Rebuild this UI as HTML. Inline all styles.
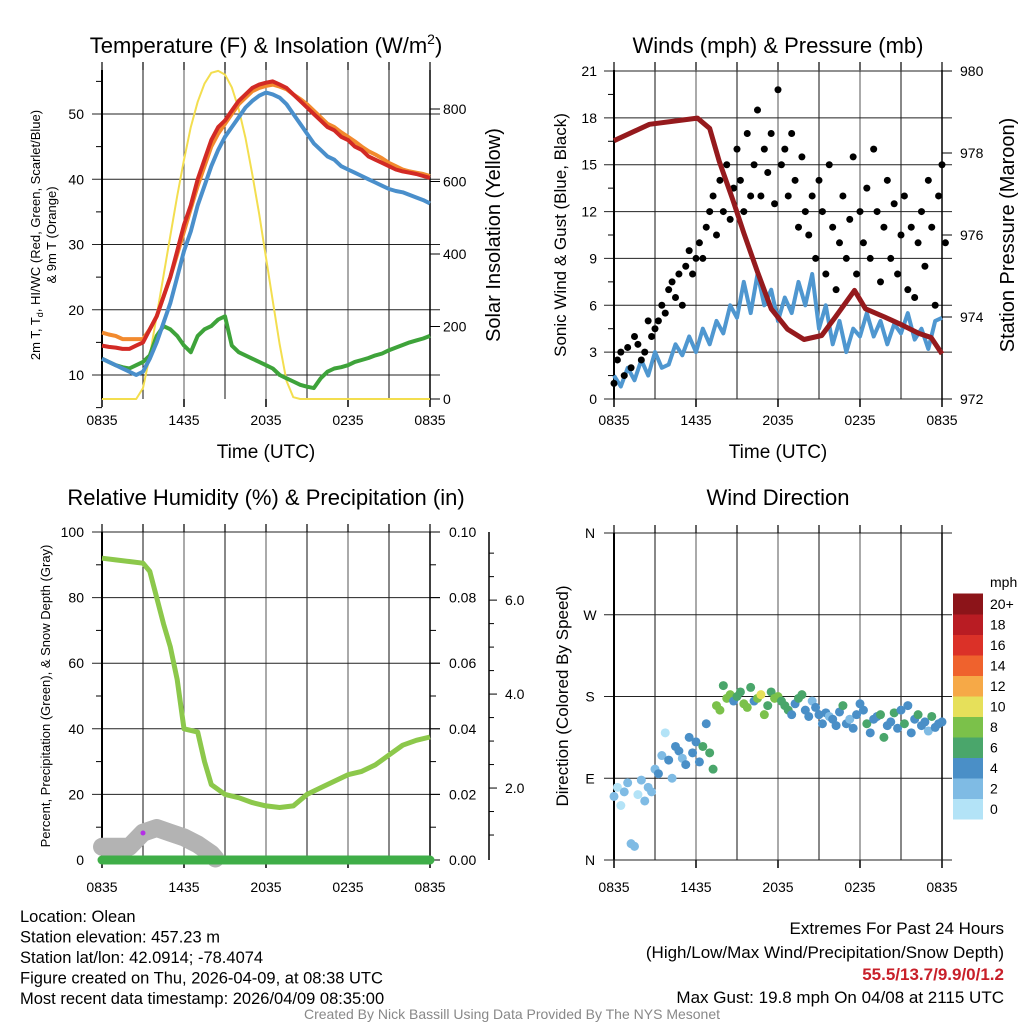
<!DOCTYPE html>
<html><head><meta charset="utf-8"><style>
html,body{margin:0;padding:0;background:#fff;}
svg{display:block;font-family:"Liberation Sans",sans-serif;}
</style></head><body>
<svg id="chart" width="1024" height="1024" viewBox="0 0 1024 1024" xmlns="http://www.w3.org/2000/svg"></svg>
<script>
// ---------- DATA ----------
const xTickLabels = ["0835","1435","2035","0235","0835"];
// Panel 1 (half-hour steps, hours since 0835)
const tempT   = [14.5,14.3,14.2,14,14,14.5,15,17,19,22,25,29,33,36,40,43,46,48,49,50.5,52,53,54,54.5,54.8,55,54.5,54,53,52,51,50,49,48,47.5,46.5,46,45,44.5,43.5,43,42.5,42,41.5,41.2,41,40.8,40.5,40.2];
const temp9m  = [16.5,16.2,16,15.5,15.5,15.5,15.5,17,19,22,25,28.5,32,35.5,39,42,45,47,48.5,50,51.5,52.5,53.5,54,54.3,54.5,54.2,53.8,53,52.3,51.5,50.5,49.5,48.5,48,47.2,46.5,45.8,45,44.3,43.8,43.2,42.5,42,41.5,41.2,41,40.8,40.5];
const tempWC  = [12.5,12,11.5,11,10.5,10,10.5,12.5,15,18,21,25,29,32,36,39,42,44.5,46.5,48,49.5,51,52,52.8,53.3,53,52.5,51.5,50,48.5,47,45.5,44.5,43.5,43,42,41.5,41,40.5,40,39.5,39,38.5,38.2,38,37.6,37.2,36.8,36.3];
const dewT    = [12.5,12,11.5,11.2,11,11.5,12,13,16,17.5,17,16,14.5,13.5,16,17,17.5,18.5,19,14.5,13.5,13,12.5,12,11.5,11,10,9.5,9,8.5,8.2,8,9.5,10.5,11,11.2,11.5,12,12.3,12.6,13,13.3,13.8,14.2,14.6,15,15.3,15.6,16];
const solar   = [0,0,0,0,0,0,30,120,230,340,450,560,660,750,820,870,900,905,895,860,800,720,620,510,390,270,150,50,5,0,0,0,0,0,0,0,0,0,0,0,0,0,0,0,0,0,0,0,0];
const p1LeftTicks = [10,20,30,40,50];
const p1RightTicks = [0,200,400,600,800];
// Panel 2
const windSpd = [1.5,0.8,2,1.2,2.5,1.5,3,2,2.2,3.5,2.8,4,3,4.5,3.5,5,4.2,6,5.2,7.5,5.5,8,6,7,5,6.5,5.5,7.5,6,8,4.5,6,3.5,5,3,4.5,4,5.5,4,5,3.5,4.8,4.2,5.5,3.8,4.5,3.2,5,5.2];
const gusts = [1,2.5,3,1.5,3.3,2,4,3.5,2.5,3,5,4,4.5,5,6,5.5,7,7.5,6.5,8,6,8.5,9.5,8,9,10,9,11,12,13,10.5,14,12,15,11.5,13.5,16,14,12,17,13,15,18.5,13,16,14.5,17,12.5,19.8,15,16,13,17,14,11,15.5,12,10.5,13,9,14,12,8,15,11,7,10,13,9,11.5,15.5,8,12,10,13.5,9,16,12,7.5,11,14,9,12.5,8,10.5,13,7,11,6.5,10,12,8.5,14,11,6,13,15,10];
const presTimes = [0,2.6,6.1,7,7.7,8.7,9.5,10.5,11.5,12.7,13.9,15.2,16.2,17.6,18.4,19.8,21.1,22.3,23.2,24];
const presVals  = [978.3,978.7,978.85,978.6,977.8,976.85,976.05,975.1,974.2,973.7,973.45,973.55,974.0,974.65,974.2,974.0,973.8,973.6,973.5,973.1];
const p2LeftTicks = [0,3,6,9,12,15,18,21];
const p2RightTicks = [972,974,976,978,980];
// Panel 3
const rhTimes = [0,1,2,3,3.5,4,4.5,5,5.5,6,7,7.5,8,9,10,11,12,13,14,15,16,17,18,19,20,21,22,23,24];
const rhVals  = [92,91.5,91,90.5,88,80,72,65,55,40,39,30,23,20,19,17.5,16.5,16,16.5,20,22,24,26,27,29,32,35,36.5,37.5];
const precip = [0,0];
const snowTimes = [0,2,3,4,5,6,7,8,8.3];
const snowVals  = [0.75,0.75,1.05,1.15,1.05,0.95,0.8,0.6,0.5];
const p3LeftTicks = [0,20,40,60,80,100];
const p3RightTicks = ["0.00","0.02","0.04","0.06","0.08","0.10"];
const p3SnowTicks = [2,4,6];
// Panel 4 (quarter-hour steps)
const windDir = [70,80,60,75,85,18,15,72,88,65,80,75, 100,95,115,140,110,90,125,120,112,105,135,118, 130,108,125,150,118,100,170,165,192,178,182,175, 180,185,172,168,190,175,178,182,160,170,185,178, 180,175,170,165,160,172,178,182,165,158,175,168, 160,150,162,158,155,148,163,170,150,155,145,160, 172,165,150,140,155,158,160,135,148,152,162,145, 165,150,170,140,155,160,148,152,142,158,146,150,152];
const dirSpeed = [2,1,1,3,2,3,3,1,2,2,3,3, 3,4,2,1,4,3,4,4,3,4,4,4, 5,4,6,4,7,6,8,9,7,8,8,5, 7,6,8,8,7,4,9,10,8,7,6,8, 8,6,7,7,5,4,6,6,4,4,3,5, 4,4,5,3,4,4,4,6,4,2,4,5, 4,5,6,4,4,5,6,6,5,4,6,4, 4,6,5,4,4,6,4,4,3,6,4,5,4];
const dirLabels = ["N","E","S","W","N"];
const cbLabels = ["0","2","4","6","8","10","12","14","16","18","20+"];
const cbColors = ["#b3e3f7","#7fbbe4","#4a8fc7","#4aa66b","#7bc14a","#e6e05a","#f6a947","#ef622d","#db3128","#b91c23","#8c1419"];

// ---------- HELPERS ----------
const svg = document.getElementById('chart');
const NS = "http://www.w3.org/2000/svg";
function el(tag, attrs, parent){const e=document.createElementNS(NS,tag);for(const k in attrs)e.setAttribute(k,attrs[k]);(parent||svg).appendChild(e);return e;}
function txt(s,x,y,size,anchor,parent,extra){const t=el('text',Object.assign({x:x,y:y,'font-size':size,'text-anchor':anchor||'middle',fill:'#000'},extra||{}),parent);t.textContent=s;return t;}
function lin(d0,d1,r0,r1){return v=>r0+(v-d0)/(d1-d0)*(r1-r0);}
function pathOf(xs,ys){return xs.map((x,i)=>(i?'L':'M')+x.toFixed(1)+' '+ys[i].toFixed(1)).join(' ');}

function frame(g,L,T,R,B,leftTicksY){
  for(let h=3;h<24;h+=3){const x=L+(R-L)*h/24;const l=el('line',{x1:x,y1:T,x2:x,y2:B,stroke:(h%6==0?'#555':'#111'),'stroke-width':1},g);}
  leftTicksY.forEach(y=>{const l=el('line',{x1:L-10,y1:y,x2:R+10,y2:y,stroke:'#222','stroke-width':1},g);});
  for(let h=0;h<=24;h+=6){const x=L+(R-L)*h/24;el('line',{x1:x,y1:B,x2:x,y2:B+8,stroke:'#000','stroke-width':1.5},g);}
  for(let h=0;h<=24;h+=3){const x=L+(R-L)*h/24;el('line',{x1:x,y1:T-8,x2:x,y2:T,stroke:'#000','stroke-width':1.2},g);}
  el('line',{x1:L,y1:T,x2:L,y2:B,stroke:'#000','stroke-width':2},g);
  el('line',{x1:R,y1:T,x2:R,y2:B,stroke:'#000','stroke-width':1.5},g);
}
function xLabels(g,L,R,y){xTickLabels.forEach((s,i)=>{const t=txt(s,L+(R-L)*i/4,y,14,'middle',g);});}

// ---------- PANEL 1 ----------
(function(){
  const g=el('g',{});  
  const L=102,R=430,T=70,B=399;
  const X=lin(0,24,L,R), Y=lin(10,50,375,114), YS=lin(0,800,399,109);
  frame(g,L,T,R,B,p1LeftTicks.map(Y));
  for(let v=5;v<=55;v+=5){if(v%10)el('line',{x1:L-6,y1:Y(v),x2:L,y2:Y(v),stroke:'#000'},g);}
  p1LeftTicks.forEach(v=>{const t=txt(String(v),84,Y(v)+5,14,'end',g);});
  p1RightTicks.forEach(v=>{const t=txt(String(v),443,YS(v)+5,14,'start',g);el('line',{x1:R,y1:YS(v),x2:R+10,y2:YS(v),stroke:'#000'},g);});
  const xs=tempT.map((_,i)=>X(i*0.5));
  const series=[[solar,YS,'#f3de4f',2,'solar-insolation-line'],[dewT,Y,'#3ea33a',4,'dewpoint-line'],[temp9m,Y,'#f28a2e',4,'temp-9m-line'],[tempWC,Y,'#4a8fcb',4,'heat-index-windchill-line'],[tempT,Y,'#d22a25',4,'temp-2m-line']];
  series.forEach(s=>{const p=el('path',{d:pathOf(xs,s[0].map(s[1])),fill:'none',stroke:s[2],'stroke-width':s[3],'stroke-linejoin':'round'},g);});
  xLabels(g,L,R,425);
  const t1=el('text',{x:266,y:53,'font-size':22,'text-anchor':'middle'},g);t1.innerHTML='Temperature (F) &amp; Insolation (W/m<tspan font-size="14" dy="-9">2</tspan><tspan dy="9">)</tspan>';
  
  const a=txt('Time (UTC)',266,458,19,'middle',g);
  const y1=el('text',{transform:'translate(40,235) rotate(-90)','font-size':13,'text-anchor':'middle'},g);y1.innerHTML='2m T, T<tspan font-size="9" dy="3">d</tspan><tspan dy="-3">, HI/WC (Red, Green, Scarlet/Blue)</tspan>';
  
  const y1b=el('text',{transform:'translate(56,235) rotate(-90)','font-size':13,'text-anchor':'middle'},g);y1b.textContent='& 9m T (Orange)';
  
  const y2=el('text',{transform:'translate(500,235) rotate(-90)','font-size':20,'text-anchor':'middle'},g);y2.textContent='Solar Insolation (Yellow)';
  
})();

// ---------- PANEL 2 ----------
(function(){
  const g=el('g',{});  
  const L=614,R=942,T=70,B=399;
  const X=lin(0,24,L,R), Y=lin(0,21,399,71), YP=lin(972,980,399,71);
  frame(g,L,T,R,B,p2LeftTicks.map(Y));
  for(let v=1.5;v<21;v+=3)el('line',{x1:L-6,y1:Y(v),x2:L,y2:Y(v),stroke:'#000'},g);
  p2LeftTicks.forEach(v=>{const t=txt(String(v),597,Y(v)+5,14,'end',g);});
  p2RightTicks.forEach(v=>{const t=txt(String(v),960,YP(v)+5,14,'start',g);el('line',{x1:R,y1:YP(v),x2:R+10,y2:YP(v),stroke:'#000'},g);});
  const w=el('path',{d:pathOf(windSpd.map((_,i)=>X(i*0.5)),windSpd.map(Y)),fill:'none',stroke:'#4f97d0','stroke-width':4,'stroke-linejoin':'round'},g);
  
  gusts.forEach((v,i)=>{const c=el('circle',{cx:X(i*0.25),cy:Y(v),r:3.5,fill:'#000'},g);});
  const p=el('path',{d:pathOf(presTimes.map(X),presVals.map(YP)),fill:'none',stroke:'#951a1d','stroke-width':5,'stroke-linejoin':'round'},g);
  
  xLabels(g,L,R,425);
  const t=txt('Winds (mph) & Pressure (mb)',778,53,22,'middle',g);
  const a=txt('Time (UTC)',778,458,19,'middle',g);
  const y1=el('text',{transform:'translate(566,235) rotate(-90)','font-size':17,'text-anchor':'middle'},g);y1.textContent='Sonic Wind & Gust (Blue, Black)';
  
  const y2=el('text',{transform:'translate(1014,235) rotate(-90)','font-size':20,'text-anchor':'middle'},g);y2.textContent='Station Pressure (Maroon)';
  
})();

// ---------- PANEL 3 ----------
(function(){
  const g=el('g',{});  
  const L=102,R=430,T=532,B=860;
  const X=lin(0,24,L,R), Y=lin(0,100,860,532), YPr=lin(0,0.1,860,532), YS=lin(0,7.45,882,532);
  frame(g,L,T,R,B,p3LeftTicks.slice(1).map(Y));
  for(let v=10;v<100;v+=20)el('line',{x1:L-6,y1:Y(v),x2:L,y2:Y(v),stroke:'#000'},g);
  p3LeftTicks.forEach(v=>{const t=txt(String(v),84,Y(v)+5,14,'end',g);});
  p3RightTicks.forEach(s=>{const y=YPr(parseFloat(s));const t=txt(s,449,y+5,14,'start',g);el('line',{x1:R,y1:y,x2:R+10,y2:y,stroke:'#000'},g);});
  for(let v=0.01;v<0.1;v+=0.02)el('line',{x1:R,y1:YPr(v),x2:R+6,y2:YPr(v),stroke:'#000'},g);
  el('line',{x1:489,y1:532,x2:489,y2:860,stroke:'#000','stroke-width':1.5},g);
  p3SnowTicks.forEach(v=>{const y=YS(v);el('line',{x1:489,y1:y,x2:497,y2:y,stroke:'#000'},g);const t=txt(v.toFixed(1),505,y+5,14,'start',g);});
  for(let v=1;v<7.4;v+=0.5){if(v%2)el('line',{x1:489,y1:YS(v),x2:494,y2:YS(v),stroke:'#000'},g);}
  const s=el('path',{d:pathOf(snowTimes.map(X),snowVals.map(YS)),fill:'none',stroke:'#b3b3b3','stroke-width':18,'stroke-linecap':'round','stroke-linejoin':'round'},g);
  
  const pr=el('path',{d:pathOf([X(0),X(24)],precip.map(YPr)),fill:'none',stroke:'#3fae48','stroke-width':9,'stroke-linecap':'round'},g);
  
  const rh=el('path',{d:pathOf(rhTimes.map(X),rhVals.map(Y)),fill:'none',stroke:'#8cc84b','stroke-width':5,'stroke-linejoin':'round'},g);
  
  const d=el('circle',{cx:143,cy:833,r:2.5,fill:'#b42fe6'},g);
  xLabels(g,L,R,892);
  const t=txt('Relative Humidity (%) & Precipitation (in)',266,505,22,'middle',g);
  const y1=el('text',{transform:'translate(50,696) rotate(-90)','font-size':13,'text-anchor':'middle'},g);y1.textContent='Percent, Precipitation (Green), & Snow Depth (Gray)';
  
})();

// ---------- PANEL 4 ----------
(function(){
  const g=el('g',{});  
  const L=614,R=942,T=533,B=860;
  const X=lin(0,24,L,R), Y=lin(0,360,860,533);
  frame(g,L,T,R,B,[90,180,270,360].map(Y));
  el('line',{x1:L-10,y1:B,x2:R+10,y2:B,stroke:'#222'},g);
  dirLabels.forEach((s,i)=>{const t=txt(s,590,Y(i*90)+5,14,'middle',g);});
  function col(v){return cbColors[Math.min(10,Math.floor(v/2))];}
  windDir.forEach((v,i)=>{const c=el('circle',{cx:X(i*0.25),cy:Y(v),r:4.5,fill:col(dirSpeed[i])},g);});
  xLabels(g,L,R,892);
  const cb=el('g',{},g);
  const h=20.5;
  cbColors.forEach((c,i)=>{const y=819-(i+1)*h;el('rect',{x:953,y:y,width:30,height:h+0.5,fill:c},cb);const t=txt(cbLabels[i],990,y+h/2+5,14,'start',cb);});
  txt('mph',990,587,14,'start',cb);
  const t=txt('Wind Direction',778,505,22,'middle',g);
  const y1=el('text',{transform:'translate(568,696) rotate(-90)','font-size':17,'text-anchor':'middle'},g);y1.textContent='Direction (Colored By Speed)';
  
})();

// ---------- FOOTER ----------
(function(){
  const g=el('g',{});
  ["Location: Olean","Station elevation: 457.23 m","Station lat/lon: 42.0914; -78.4074","Figure created on Thu, 2026-04-09, at 08:38 UTC","Most recent data timestamp: 2026/04/09 08:35:00"].forEach((s,i)=>{txt(s,20,922+i*20.5,16.5,'start',g);});
  const e=el('g',{});
  txt('Extremes For Past 24 Hours',1004,934,17,'end',e);
  txt('(High/Low/Max Wind/Precipitation/Snow Depth)',1004,958,17,'end',e);
  txt('55.5/13.7/9.9/0/1.2',1004,980,17,'end',e,{fill:'#c8202a','font-weight':'bold'});
  txt('Max Gust: 19.8 mph On 04/08 at 2115 UTC',1004,1003,17,'end',e);
  const c=txt('Created By Nick Bassill Using Data Provided By The NYS Mesonet',512,1019,14,'middle',svg,{fill:'#888'});
  
})();
</script>
</body></html>
